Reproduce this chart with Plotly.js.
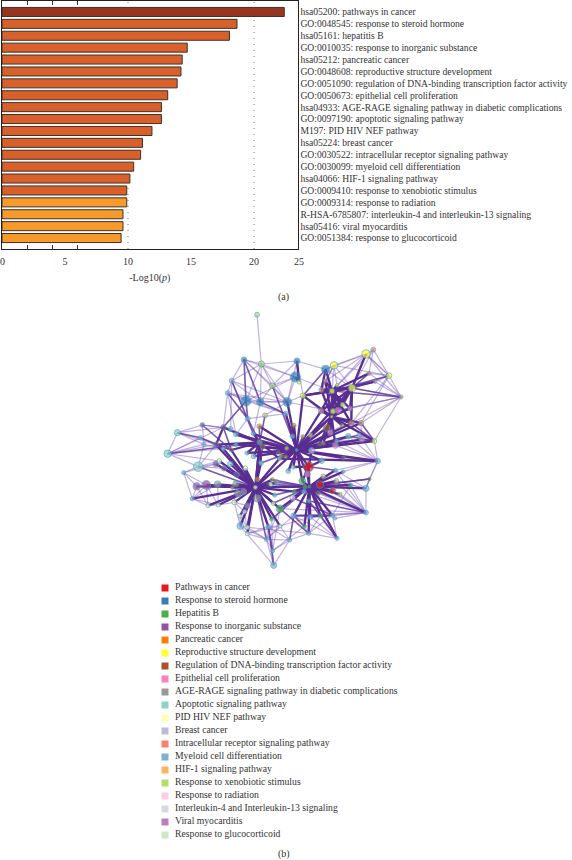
<!DOCTYPE html>
<html><head><meta charset="utf-8">
<script src="https://cdn.plot.ly/plotly-3.0.1.min.js"></script>
<style>html,body{margin:0;padding:0;background:#fff}#c{width:572px;height:860px}</style>
</head><body><div id="c"></div>
<script>
// ---- bar chart (a)
const termLabels=["hsa05200: pathways in cancer","GO:0048545: response to steroid hormone","hsa05161: hepatitis B","GO:0010035: response to inorganic substance","hsa05212: pancreatic cancer","GO:0048608: reproductive structure development","GO:0051090: regulation of DNA-binding transcription factor activity","GO:0050673: epithelial cell proliferation","hsa04933: AGE-RAGE signaling pathway in diabetic complications","GO:0097190: apoptotic signaling pathway","M197: PID HIV NEF pathway","hsa05224: breast cancer","GO:0030522: intracellular receptor signaling pathway","GO:0030099: myeloid cell differentiation","hsa04066: HIF-1 signaling pathway","GO:0009410: response to xenobiotic stimulus","GO:0009314: response to radiation","R-HSA-6785807: interleukin-4 and interleukin-13 signaling","hsa05416: viral myocarditis","GO:0051384: response to glucocorticoid"];
const logP=[22.4,18.65,18.05,14.7,14.3,14.2,13.9,13.15,12.65,12.65,11.9,11.15,11.0,10.45,10.15,9.9,9.9,9.6,9.6,9.45];
const barColors=["#97351f","#d9602a","#d9602a","#d9602a","#d9602a","#d9602a","#d9602a","#d9602a","#d9602a","#d9602a","#d9602a","#d9602a","#d9602a","#d9602a","#d9602a","#d9602a","#f8992b","#f8992b","#f8992b","#f8992b"];
const xTicks=[5,10,15,20];
const xMinor=[2,4,6];
const gridValues=[10,20];
// ---- network (b): positions
const nodeX=[476,510,548,282,441,527,436,288,331,412,648,552,606,717,459,546,549,578,673,447,53,82,145,321,334,367,245,233,157,220,242,293,345,407,328,258,310,151,198,162,220,258,244,329,338,291,311,208,198,222,241,260,286,333,101,140,169,203,258,247,127,174,205,253,264,281,322,322,316,367,362,380,292,284,270,271,292,292,355,390,349,419,368,371,476,561,390,365,431,481,512,463,547,555,648,648,457,465,433,428,462,477,505,472,520,556,580,559,602,570,658,683,581,515,485,556,530,541,564,513,600,604,633,576,427,481,432,458,595,627,635,410,385,407,394,388,430,415,509,520,560,670,657,675,753,526,514,561,374,370,440,478,545];
const nodeY=[485,539,557,164,168,193,216,288,291,291,147,181,249,212,272,258,319,299,408,231,446,383,485,29,177,242,227,264,360,367,372,341,331,326,364,388,386,398,419,418,431,419,435,412,426,444,454,468,477,490,477,509,490,474,503,544,540,538,536,548,581,602,600,592,566,560,580,523,547,524,538,532,602,620,633,663,667,686,665,663,703,705,737,781,685,700,611,642,632,636,632,664,631,640,623,550,528,546,560,578,560,588,565,507,514,496,500,528,540,568,522,468,459,467,437,421,369,383,316,318,310,355,354,361,394,390,361,394,394,390,403,430,443,455,452,461,486,498,416,415,408,134,205,230,276,228,255,241,570,595,435,545,335];
const nodeSize=[26,18,14,12,14,20,26,26,18,22,20,18,18,12,12,12,12,10,10,8,18,14,24,10,14,12,10,10,10,12,10,10,10,10,10,10,8,8,12,8,8,8,8,12,10,8,10,10,14,12,12,12,10,10,8,18,22,16,14,6,8,8,8,10,16,14,18,10,8,8,8,12,12,10,8,16,10,8,10,8,8,8,8,14,8,8,18,8,12,10,8,8,8,6,10,14,16,8,8,12,10,8,8,14,10,8,6,10,8,8,6,12,8,12,14,14,16,12,14,12,10,12,12,6,10,10,8,6,12,8,12,8,6,6,6,8,8,10,8,6,8,10,8,6,8,8,10,6,8,8,4,4,4];
const nodeCat=[0,0,0,1,1,1,1,1,1,1,5,5,5,5,5,5,5,5,5,5,9,9,9,15,15,15,13,13,3,3,13,13,14,13,4,13,13,13,3,13,13,13,6,8,6,13,9,10,3,3,9,3,10,9,13,3,3,8,8,4,13,10,10,10,8,18,8,4,10,4,10,8,18,16,10,13,10,10,13,10,13,13,13,13,13,13,2,2,13,13,2,2,13,13,13,13,2,2,2,16,13,13,6,7,14,13,13,14,2,14,6,13,6,13,11,7,6,7,7,12,7,12,12,4,13,14,4,4,13,13,7,14,6,4,4,9,9,13,6,4,13,12,12,12,12,12,12,5,13,10,13,2,5];
const edgesThick=[[68,66],[68,64],[68,58],[68,57],[68,56],[68,55],[68,72],[68,73],[68,78],[68,67],[68,53],[68,43],[68,49],[68,51],[68,70],[68,71],[68,98],[68,74],[68,151],[68,59],[68,65],[150,9],[150,14],[150,33],[150,126],[150,116],[150,119],[150,103],[150,96],[150,136],[150,135],[150,132],[150,44],[150,34],[150,113],[150,114],[150,152],[150,12],[150,68],[150,0],[151,1],[151,2],[151,0],[151,94],[151,95],[151,85],[151,84],[151,101],[151,92],[151,89],[151,98],[151,86],[151,103],[151,107],[151,108],[151,96],[135,111],[152,15],[152,12],[152,16],[152,17],[152,118],[152,119],[152,116],[152,120],[152,115],[152,18],[15,12],[15,14],[15,146],[15,5],[12,10],[146,5],[19,6],[19,4],[43,29],[43,38],[43,41],[43,42],[43,35],[29,38],[150,115],[150,18],[43,150],[43,68],[43,46],[43,45],[43,53],[43,36],[135,68],[135,43],[152,146],[152,14],[152,145],[152,147],[152,121],[152,122],[152,123],[152,117],[152,125],[152,139],[152,138],[15,16],[15,17],[15,118],[15,119],[15,120],[15,121],[15,145],[15,147],[15,143],[15,142],[12,16],[12,17],[12,118],[12,119],[12,14],[12,146],[12,120],[12,121],[0,103],[0,113],[0,96],[0,136],[0,114],[151,104],[151,105],[151,106],[151,97],[151,100],[151,102],[151,109],[151,91],[151,90],[151,88],[151,99],[68,60],[68,61],[68,62],[68,63],[68,75],[68,76],[68,77],[68,47],[68,48],[68,50],[68,52],[68,86],[68,87],[68,79],[68,148],[68,149],[68,69],[150,111],[150,112],[150,128],[150,130],[150,122],[150,121],[150,117],[150,125],[150,124],[150,131],[150,133],[150,134],[150,137],[150,138],[150,140],[150,36],[150,35],[150,41],[150,45],[150,46],[38,68],[40,68],[42,68]];
const edgesMid=[[3,8],[3,7],[4,19],[5,14],[7,31],[8,33],[7,29],[26,36],[27,31],[28,42],[29,42],[38,42],[37,42],[20,43],[21,37],[22,68],[84,68],[80,68],[83,78],[85,101],[94,101],[92,99],[92,89],[88,90],[88,91],[88,92],[81,88],[82,78],[149,151],[148,151],[98,97],[97,96],[69,71],[69,151],[70,151],[71,151],[105,0],[127,150],[129,150],[139,150],[53,150],[33,150],[25,150],[31,43],[32,43],[34,43],[43,66],[44,68],[145,15],[13,15],[142,12],[143,12],[144,15],[144,12],[18,121],[18,122],[18,128],[18,130],[110,151],[87,151],[86,151],[78,66],[110,1]];
const edgesLight=[[23,24],[24,3],[24,4],[24,25],[24,26],[25,9],[4,5],[11,10],[13,10],[13,144],[141,13],[141,142],[10,141],[142,144],[3,26],[27,26],[27,7],[21,20],[20,22],[20,39],[20,37],[54,22],[54,60],[60,55],[61,56],[62,57],[63,58],[75,80],[76,80],[77,80],[78,80],[80,82],[81,82],[82,83],[83,80],[83,81],[81,84],[84,85],[85,92],[84,92],[88,85],[88,80],[79,81],[79,89],[94,92],[94,95],[94,1],[95,111],[111,18],[111,110],[110,95],[18,130],[18,144],[13,12],[11,5],[11,15],[24,8],[25,8],[25,6],[6,9],[26,31],[27,8],[3,25],[4,25],[10,12],[10,13],[13,143],[143,144],[12,144],[120,144],[118,144],[16,144],[130,122],[128,111],[129,111],[105,94],[107,94],[2,94],[109,94],[100,94],[89,94],[76,84],[75,83],[78,81],[87,82],[86,82],[91,82],[86,80],[90,85],[22,39],[22,38],[28,21],[28,39],[54,48],[60,56],[60,57],[61,55],[62,56],[63,75],[74,76],[73,77],[72,75],[31,35],[30,28],[30,26],[29,27],[35,27],[36,8],[32,9],[33,7],[20,40],[21,39],[20,47],[140,18],[115,18],[121,13],[122,13],[141,12],[145,11],[146,11],[147,11],[11,12],[5,12],[6,15],[9,14],[9,16],[14,119],[119,16],[17,118],[120,121],[121,122],[117,123],[4,14],[4,9],[3,9],[3,6],[24,6],[24,9],[24,7],[26,8],[26,9],[27,9],[27,33],[7,9],[8,9],[7,6],[31,33],[28,29],[29,30],[28,30],[37,38],[39,40],[37,40],[20,38],[20,29],[21,29],[21,38],[22,47],[22,48],[22,49],[54,56],[54,55],[60,61],[60,62],[61,62],[62,63],[63,72],[63,73],[74,75],[75,76],[76,77],[77,78],[77,79],[78,79],[79,80],[80,81],[84,91],[84,90],[85,90],[85,89],[92,93],[93,94],[92,108],[94,108],[94,102],[94,97],[94,88],[94,86],[95,108],[95,107],[95,105],[95,110],[111,112],[111,140],[111,115],[111,105],[111,106],[18,140],[18,129],[144,10],[144,122],[144,121],[13,11],[13,142],[10,5],[10,15],[10,145],[11,145],[141,15]];
// ---- legend (b)
const catNames=["Pathways in cancer","Response to steroid hormone","Hepatitis B","Response to inorganic substance","Pancreatic cancer","Reproductive structure development","Regulation of DNA-binding transcription factor activity","Epithelial cell proliferation","AGE-RAGE signaling pathway in diabetic complications","Apoptotic signaling pathway","PID HIV NEF pathway","Breast cancer","Intracellular receptor signaling pathway","Myeloid cell differentiation","HIF-1 signaling pathway","Response to xenobiotic stimulus","Response to radiation","Interleukin-4 and Interleukin-13 signaling","Viral myocarditis","Response to glucocorticoid"];
const catColors=["#e41a1c","#377eb8","#4daf4a","#984ea3","#ff7f00","#ffff33","#a65628","#f781bf","#999999","#8dd3c7","#ffffb3","#bebada","#fb8072","#80b1d3","#fdb462","#b3de69","#fccde5","#d9d9d9","#bc80bd","#ccebc5"];

const W=572,H=860,SERIF='"Liberation Serif",serif',INK='#333';
const edgeTrace=(list,color,width)=>{
  const x=[],y=[];
  list.forEach(([a,b])=>{x.push(nodeX[a],nodeX[b],null);y.push(nodeY[a],nodeY[b],null);});
  return {type:'scatter',mode:'lines',x,y,xaxis:'x2',yaxis:'y2',line:{color,width},hoverinfo:'skip',showlegend:false};
};
const nodeTraces=catNames.map((name,c)=>{
  const idx=nodeX.map((_,i)=>i).filter(i=>nodeCat[i]===c);
  return {type:'scatter',mode:'markers',name,xaxis:'x2',yaxis:'y2',
    x:idx.map(i=>nodeX[i]),y:idx.map(i=>nodeY[i]),
    marker:{color:catColors[c],size:idx.map(i=>nodeSize[i]/3+1.5),line:{color:'#3f9cb8',width:0.9}},showlegend:false};
});
const rowIdx=catNames.map((_,i)=>i);
const traces=[
 {type:'bar',orientation:'h',x:logP,y:termLabels,marker:{color:barColors,line:{color:'#3d3128',width:1}},width:0.76,xaxis:'x',yaxis:'y',showlegend:false},
 edgeTrace(edgesLight,'rgba(125,95,190,0.48)',1.2),
 edgeTrace(edgesMid,'rgba(98,58,160,0.85)',1.6),
 edgeTrace(edgesThick,'#5a2d91',2.3),
 ...nodeTraces,
 {type:'scatter',mode:'markers',x:rowIdx.map(()=>0),y:rowIdx,xaxis:'x3',yaxis:'y3',marker:{symbol:'square',size:7,color:catColors},showlegend:false,hoverinfo:'skip',cliponaxis:false},
 {type:'scatter',mode:'text',x:rowIdx.map(()=>10),y:rowIdx,text:catNames,textposition:'middle right',textfont:{family:SERIF,size:9.7,color:INK},xaxis:'x3',yaxis:'y3',showlegend:false,cliponaxis:false,hoverinfo:'skip'}
];
const layout={
 width:W,height:H,margin:{l:0,r:0,t:0,b:0},paper_bgcolor:'#fff',plot_bgcolor:'#fff',showlegend:false,
 font:{family:SERIF,color:INK,size:10},
 xaxis:{domain:[2/W,297.5/W],range:[0,23.45],anchor:'y',tickmode:'array',tickvals:xTicks,ticks:'inside',ticklen:0.01,ticklabelstandoff:3,
   minor:{tickmode:'array',tickvals:xMinor,ticks:'inside',ticklen:4,tickcolor:'#333',tickwidth:1,showgrid:false},
   showline:true,mirror:'ticks',linecolor:'#222',linewidth:1,showgrid:false,zeroline:false,
   tickfont:{family:SERIF,size:10,color:INK},
   title:{text:'-Log10(<i>p</i>)',font:{family:SERIF,size:10,color:INK},standoff:7}},
 yaxis:{domain:[1-249/H,1-1/H],type:'category',categoryorder:'array',categoryarray:termLabels,tickmode:'array',tickvals:termLabels,ticktext:termLabels,range:[19.92,-0.92],anchor:'x',side:'right',
   showline:true,mirror:true,linecolor:'#222',linewidth:1,ticks:'',showgrid:false,automargin:false,
   tickfont:{family:SERIF,size:9.6,color:INK}},
 xaxis2:{domain:[150/W,420/W],range:[0,810],anchor:'y2',visible:false,fixedrange:true},
 yaxis2:{domain:[1-575/H,1-305/H],range:[810,0],anchor:'x2',visible:false,fixedrange:true},
 xaxis3:{domain:[165/W,420/W],range:[0,255],anchor:'y3',visible:false,fixedrange:true},
 yaxis3:{domain:[1-841.5/H,1-581.5/H],range:[19.5,-0.5],anchor:'x3',visible:false,fixedrange:true},
 shapes:gridValues.map(v=>({type:'line',xref:'x',yref:'paper',x0:v,x1:v,y0:1-249/H,y1:1-1/H,layer:'below',line:{color:'#777',width:1,dash:'1px,5px'}})),
 annotations:[
  {text:'0',xref:'paper',yref:'paper',x:2/W,y:1-261/H,showarrow:false,xanchor:'center',yanchor:'middle',font:{family:SERIF,size:10,color:INK}},
  {text:'25',xref:'paper',yref:'paper',x:299/W,y:1-261/H,showarrow:false,xanchor:'center',yanchor:'middle',font:{family:SERIF,size:10,color:INK}},
  {text:'(a)',xref:'paper',yref:'paper',x:283/W,y:1-296.5/H,showarrow:false,xanchor:'center',yanchor:'middle',font:{family:SERIF,size:10,color:INK}},
  {text:'(b)',xref:'paper',yref:'paper',x:284/W,y:1-854/H,showarrow:false,xanchor:'center',yanchor:'middle',font:{family:SERIF,size:10,color:INK}}
 ]
};
Plotly.newPlot('c',traces,layout,{displayModeBar:false,staticPlot:true});
</script></body></html>
